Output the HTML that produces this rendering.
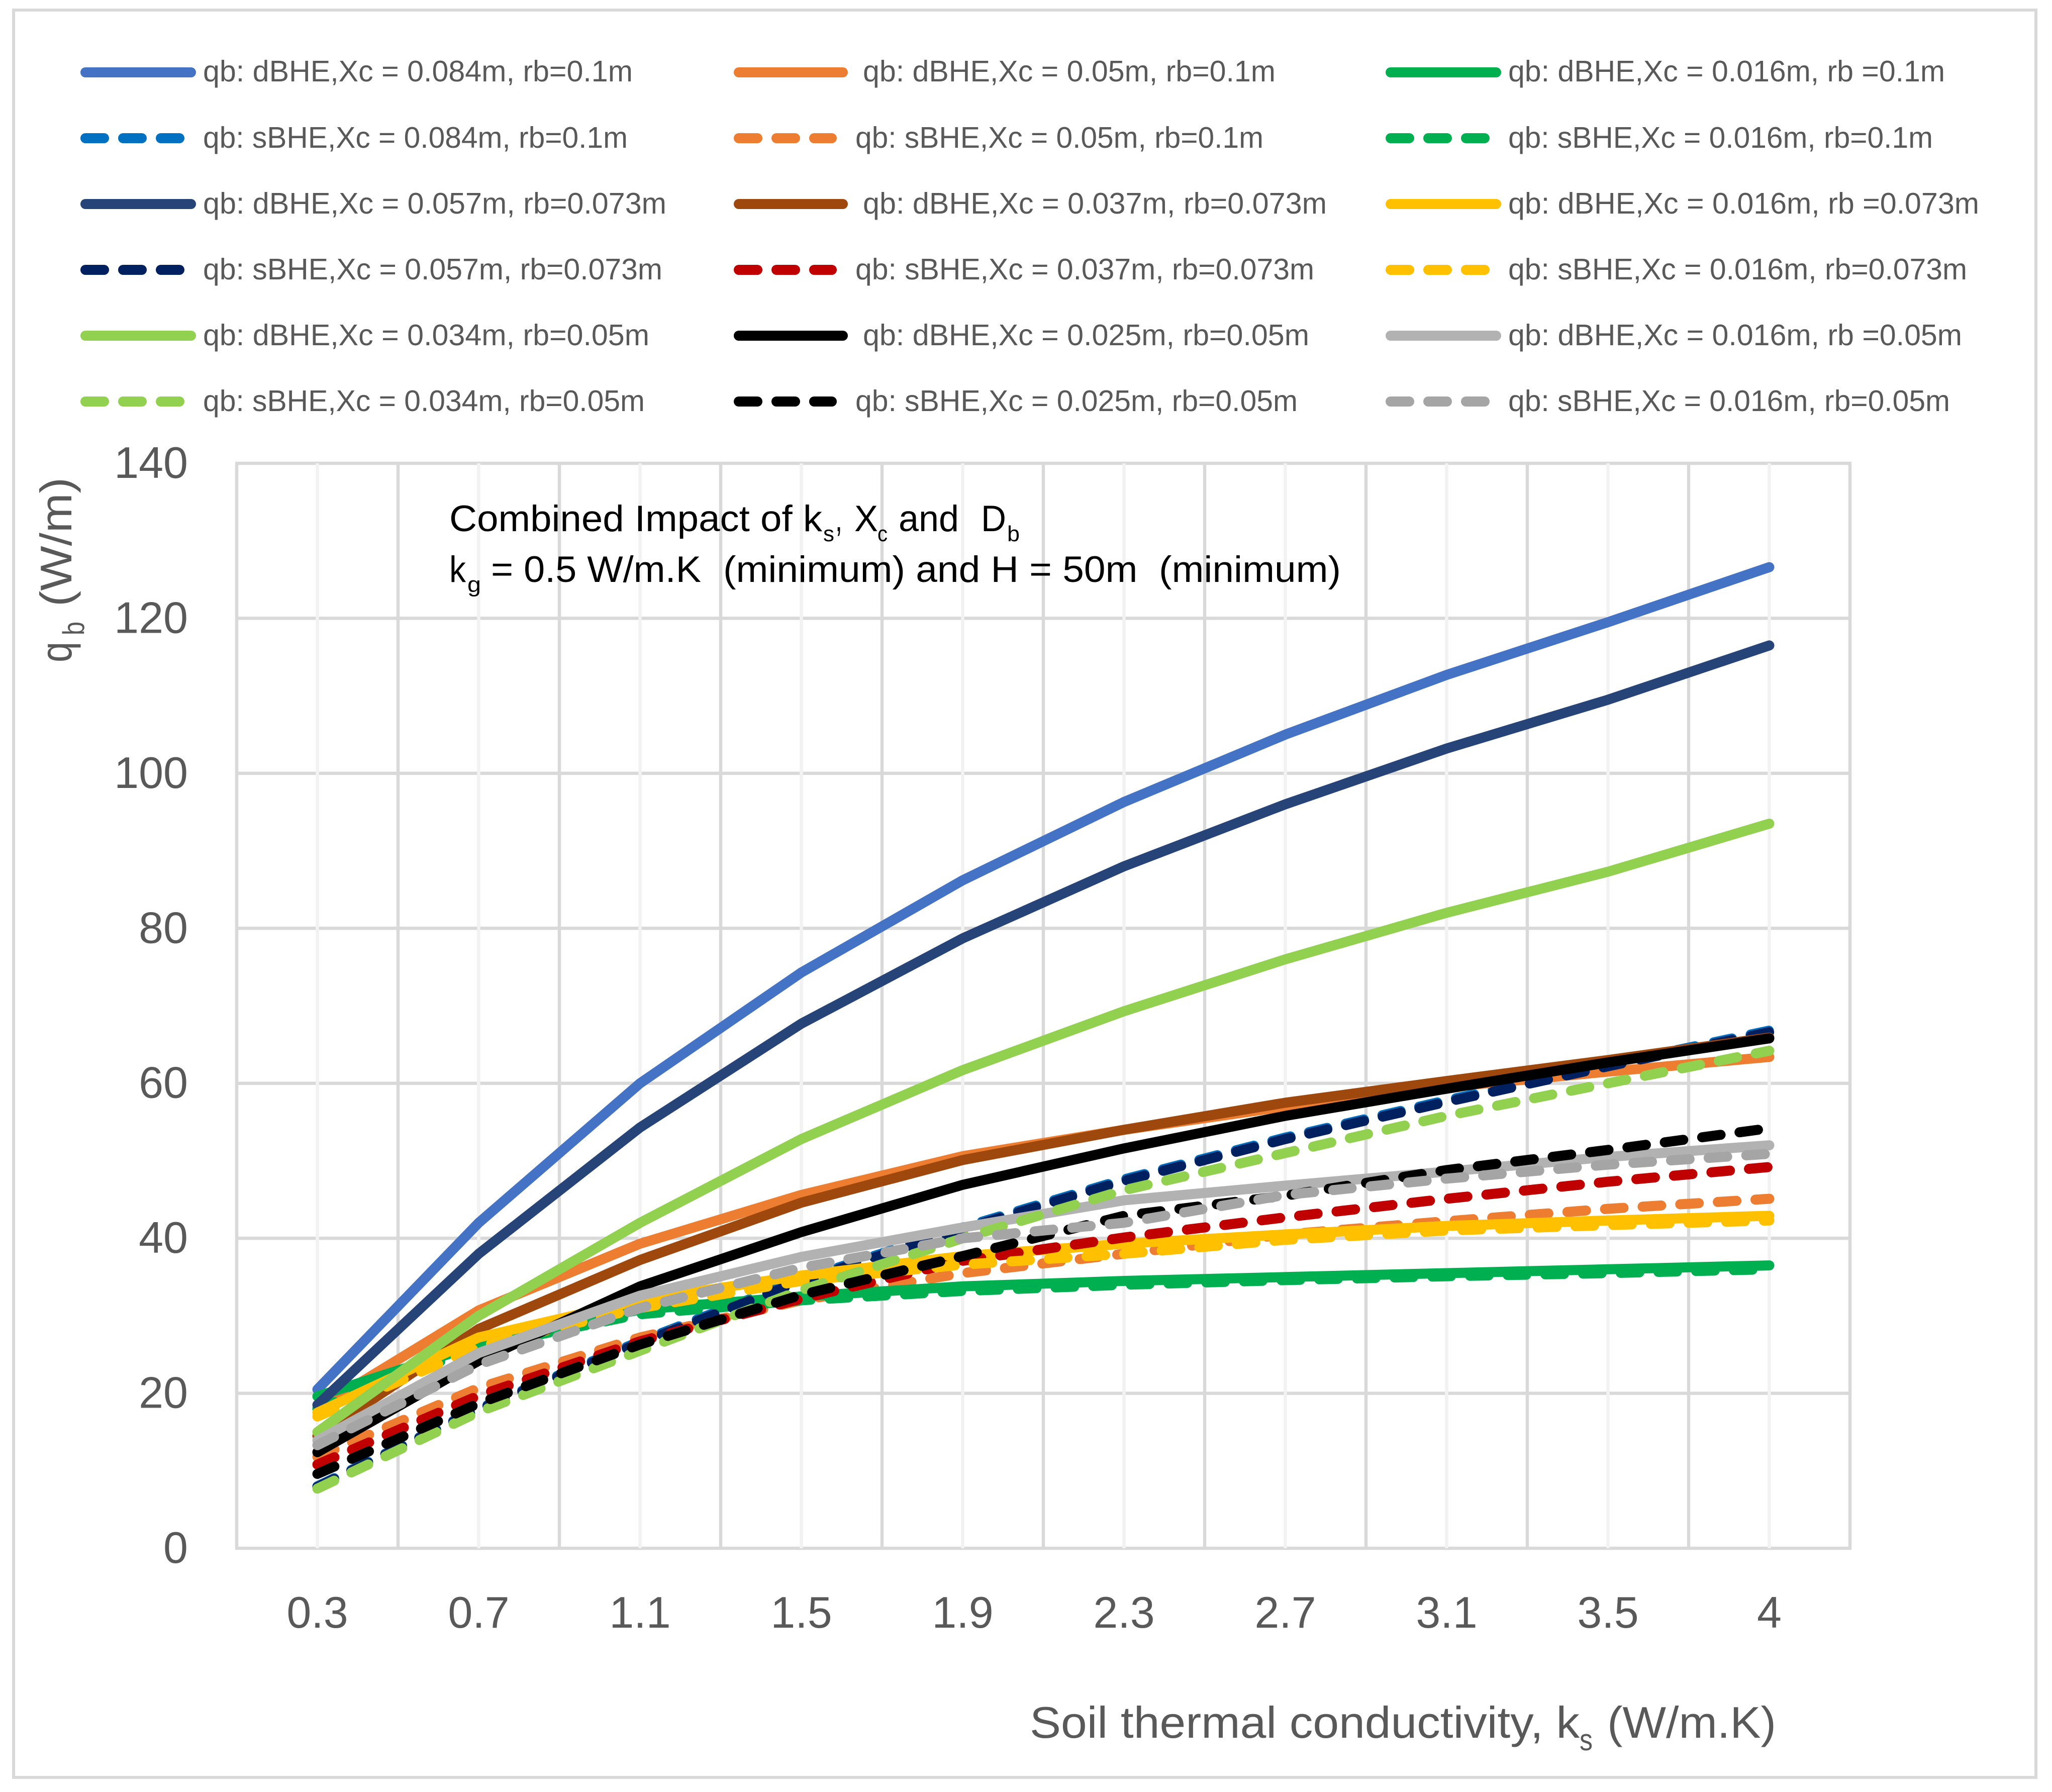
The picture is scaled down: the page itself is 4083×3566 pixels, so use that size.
<!DOCTYPE html>
<html lang="en">
<head>
<meta charset="utf-8">
<title>Combined Impact of ks, Xc and Db</title>
<style>
html,body{margin:0;padding:0;background:#fff;}
svg{display:block;font-family:"Liberation Sans",sans-serif;}
.lg{font-size:59px;fill:#595959;}
.tick{font-size:88px;fill:#595959;}
.axt{font-size:88px;fill:#595959;}
.axs{font-size:60px;fill:#595959;}
.an{font-size:73px;fill:#000;white-space:pre;}
.ans{font-size:44px;fill:#000;}
</style>
</head>
<body>
<svg id="chart" xmlns="http://www.w3.org/2000/svg" width="4083" height="3566" viewBox="0 0 4083 3566">
<rect x="0" y="0" width="4083" height="3566" fill="#fff"/>
<rect x="27" y="20" width="4024" height="3517" fill="none" stroke="#d9d9d9" stroke-width="6"/>

<g id="grid"></g>
<g id="y-ticks"></g>
<g id="x-ticks"></g>
<g id="series" fill="none" stroke-width="20" stroke-linecap="round" stroke-linejoin="round"></g>

<g stroke-width="20" stroke-linecap="round" fill="none">
  <g><line x1="170" y1="144" x2="380" y2="144" stroke="#4472c4"/><text class="lg" stroke="none" x="404" y="162" textLength="855" lengthAdjust="spacingAndGlyphs">qb: dBHE,Xc = 0.084m, rb=0.1m</text></g>
  <g><line x1="170" y1="275" x2="357" y2="275" stroke="#0070c0" stroke-dasharray="37 38"/><text class="lg" stroke="none" x="404" y="294" textLength="845" lengthAdjust="spacingAndGlyphs">qb: sBHE,Xc = 0.084m, rb=0.1m</text></g>
  <g><line x1="170" y1="406" x2="380" y2="406" stroke="#264478"/><text class="lg" stroke="none" x="404" y="425" textLength="922" lengthAdjust="spacingAndGlyphs">qb: dBHE,Xc = 0.057m, rb=0.073m</text></g>
  <g><line x1="170" y1="537" x2="357" y2="537" stroke="#002060" stroke-dasharray="37 38"/><text class="lg" stroke="none" x="404" y="556" textLength="914" lengthAdjust="spacingAndGlyphs">qb: sBHE,Xc = 0.057m, rb=0.073m</text></g>
  <g><line x1="170" y1="668" x2="380" y2="668" stroke="#92d050"/><text class="lg" stroke="none" x="404" y="687" textLength="888" lengthAdjust="spacingAndGlyphs">qb: dBHE,Xc = 0.034m, rb=0.05m</text></g>
  <g><line x1="170" y1="799" x2="357" y2="799" stroke="#92d050" stroke-dasharray="37 38"/><text class="lg" stroke="none" x="404" y="818" textLength="879" lengthAdjust="spacingAndGlyphs">qb: sBHE,Xc = 0.034m, rb=0.05m</text></g>

  <g><line x1="1470" y1="144" x2="1677" y2="144" stroke="#ed7d31"/><text class="lg" stroke="none" x="1717" y="162" textLength="821" lengthAdjust="spacingAndGlyphs">qb: dBHE,Xc = 0.05m, rb=0.1m</text></g>
  <g><line x1="1470" y1="275" x2="1655" y2="275" stroke="#ed7d31" stroke-dasharray="37 38"/><text class="lg" stroke="none" x="1702" y="294" textLength="812" lengthAdjust="spacingAndGlyphs">qb: sBHE,Xc = 0.05m, rb=0.1m</text></g>
  <g><line x1="1470" y1="406" x2="1677" y2="406" stroke="#9e480e"/><text class="lg" stroke="none" x="1717" y="425" textLength="923" lengthAdjust="spacingAndGlyphs">qb: dBHE,Xc = 0.037m, rb=0.073m</text></g>
  <g><line x1="1470" y1="537" x2="1655" y2="537" stroke="#c00000" stroke-dasharray="37 38"/><text class="lg" stroke="none" x="1702" y="556" textLength="913" lengthAdjust="spacingAndGlyphs">qb: sBHE,Xc = 0.037m, rb=0.073m</text></g>
  <g><line x1="1470" y1="668" x2="1677" y2="668" stroke="#000"/><text class="lg" stroke="none" x="1717" y="687" textLength="888" lengthAdjust="spacingAndGlyphs">qb: dBHE,Xc = 0.025m, rb=0.05m</text></g>
  <g><line x1="1470" y1="799" x2="1655" y2="799" stroke="#000" stroke-dasharray="37 38"/><text class="lg" stroke="none" x="1702" y="818" textLength="880" lengthAdjust="spacingAndGlyphs">qb: sBHE,Xc = 0.025m, rb=0.05m</text></g>

  <g><line x1="2767" y1="144" x2="2977" y2="144" stroke="#00b050"/><text class="lg" stroke="none" x="3001" y="162" textLength="869" lengthAdjust="spacingAndGlyphs">qb: dBHE,Xc = 0.016m, rb =0.1m</text></g>
  <g><line x1="2767" y1="275" x2="2955" y2="275" stroke="#00b050" stroke-dasharray="37 38"/><text class="lg" stroke="none" x="3001" y="294" textLength="845" lengthAdjust="spacingAndGlyphs">qb: sBHE,Xc = 0.016m, rb=0.1m</text></g>
  <g><line x1="2767" y1="406" x2="2977" y2="406" stroke="#ffc000"/><text class="lg" stroke="none" x="3001" y="425" textLength="937" lengthAdjust="spacingAndGlyphs">qb: dBHE,Xc = 0.016m, rb =0.073m</text></g>
  <g><line x1="2767" y1="537" x2="2955" y2="537" stroke="#ffc000" stroke-dasharray="37 38"/><text class="lg" stroke="none" x="3001" y="556" textLength="913" lengthAdjust="spacingAndGlyphs">qb: sBHE,Xc = 0.016m, rb=0.073m</text></g>
  <g><line x1="2767" y1="668" x2="2977" y2="668" stroke="#b2b2b2"/><text class="lg" stroke="none" x="3001" y="687" textLength="903" lengthAdjust="spacingAndGlyphs">qb: dBHE,Xc = 0.016m, rb =0.05m</text></g>
  <g><line x1="2767" y1="799" x2="2955" y2="799" stroke="#a5a5a5" stroke-dasharray="37 38"/><text class="lg" stroke="none" x="3001" y="818" textLength="879" lengthAdjust="spacingAndGlyphs">qb: sBHE,Xc = 0.016m, rb=0.05m</text></g>
</g>

<g>
  <text class="an" x="894" y="1057" textLength="742" lengthAdjust="spacingAndGlyphs">Combined Impact of k</text>
  <text class="ans" x="1638" y="1077" textLength="22" lengthAdjust="spacingAndGlyphs">s</text>
  <text class="an" x="1662" y="1057" textLength="14" lengthAdjust="spacingAndGlyphs">,</text>
  <text class="an" x="1700" y="1057" textLength="47" lengthAdjust="spacingAndGlyphs">X</text>
  <text class="ans" x="1746" y="1077" textLength="20" lengthAdjust="spacingAndGlyphs">c</text>
  <text class="an" x="1788" y="1057" textLength="120" lengthAdjust="spacingAndGlyphs">and</text>
  <text class="an" x="1952" y="1057" textLength="50" lengthAdjust="spacingAndGlyphs">D</text>
  <text class="ans" x="2004" y="1077" textLength="25" lengthAdjust="spacingAndGlyphs">b</text>
  <text class="an" x="894" y="1158" textLength="33" lengthAdjust="spacingAndGlyphs">k</text>
  <text class="ans" x="930" y="1178" textLength="27" lengthAdjust="spacingAndGlyphs">g</text>
  <text class="an" x="977" y="1158" textLength="418" lengthAdjust="spacingAndGlyphs">= 0.5 W/m.K</text>
  <text class="an" x="1439" y="1158" textLength="1229" lengthAdjust="spacingAndGlyphs">(minimum) and H = 50m  (minimum)</text>
</g>

<g transform="translate(142,1318) rotate(-90)">
  <text class="axt" x="0" y="0" textLength="41" lengthAdjust="spacingAndGlyphs">q</text>
  <text class="axs" x="54" y="25" textLength="27" lengthAdjust="spacingAndGlyphs">b</text>
  <text class="axt" x="111" y="0" textLength="257" lengthAdjust="spacingAndGlyphs">(W/m)</text>
</g>

<g>
  <text class="axt" x="2049" y="3458" textLength="1094" lengthAdjust="spacingAndGlyphs">Soil thermal conductivity, k</text>
  <text class="axs" x="3143" y="3483" textLength="26" lengthAdjust="spacingAndGlyphs">s</text>
  <text class="axt" x="3198" y="3458" textLength="336" lengthAdjust="spacingAndGlyphs">(W/m.K)</text>
</g>
</svg>

<script>
// ---- chart data ----
const xCategories = ['0.3','0.7','1.1','1.5','1.9','2.3','2.7','3.1','3.5','4'];
const yTickLabels = [0,20,40,60,80,100,120,140];

const dBHE_084_r010 = [20.5,42.0,60.0,74.3,86.2,96.3,105.0,112.7,119.5,126.6];
const sBHE_084_r010 = [8.0,18.0,26.7,34.7,41.4,47.6,53.0,57.8,62.4,66.8];
const dBHE_050_r010 = [18.0,30.7,39.3,45.6,50.6,54.0,57.0,59.5,61.5,63.4];
const sBHE_050_r010 = [11.8,20.7,27.2,32.0,35.5,38.0,40.5,42.2,43.8,45.1];
const dBHE_016_r010 = [19.6,26.3,30.8,32.5,33.8,34.5,35.0,35.5,36.0,36.5];
const sBHE_016_r010 = [18.0,26.0,30.2,32.0,33.2,34.0,34.6,35.1,35.5,36.0];
const dBHE_057_r073 = [18.5,38.0,54.3,67.7,78.7,88.0,96.0,103.2,109.5,116.5];
const sBHE_057_r073 = [7.9,17.9,26.5,34.5,41.2,47.4,52.8,57.6,62.2,66.6];
const dBHE_037_r073 = [14.5,28.3,37.2,44.6,50.1,54.0,57.5,60.3,63.0,65.9];
const sBHE_037_r073 = [10.8,19.7,26.7,32.2,37.1,40.1,42.7,45.1,47.3,49.2];
const dBHE_016_r073 = [17.5,27.2,32.0,35.2,37.7,39.3,40.5,41.6,42.3,42.9];
const sBHE_016_r073 = [17.0,26.0,31.0,34.5,36.6,38.0,39.8,41.0,41.7,42.3];
const dBHE_034_r050 = [15.0,30.0,42.0,52.8,61.7,69.3,76.0,82.0,87.3,93.5];
const sBHE_034_r050 = [7.7,17.6,25.5,33.3,40.0,46.2,51.0,55.8,60.0,64.2];
const dBHE_025_r050 = [12.4,24.2,33.8,40.8,46.9,51.6,55.8,59.3,62.7,65.8];
const sBHE_025_r050 = [9.6,18.7,26.3,32.7,37.7,42.9,45.5,48.8,51.4,54.2];
const dBHE_016_r050 = [13.9,25.2,32.6,37.6,41.4,44.9,46.8,48.6,50.5,52.0];
const sBHE_016_r050 = [13.3,23.7,31.0,36.2,40.0,42.0,45.6,47.7,49.5,50.9];

// ---- axis functions ----
const NS = 'http://www.w3.org/2000/svg';
const plotLeft = 471, plotRight = 3681, plotTop = 922, plotBottom = 3081, yMax = 140;
const slotWidth = (plotRight - plotLeft) / 20;
function xPos(i){ return plotLeft + slotWidth + i * 2 * slotWidth; }
function yPos(v){ return plotBottom - (v / yMax) * (plotBottom - plotTop); }

function make(tag, parent, attrs){
  const el = document.createElementNS(NS, tag);
  for (const k in attrs) el.setAttribute(k, attrs[k]);
  parent.appendChild(el);
  return el;
}

// ---- grid ----
const gridG = document.getElementById('grid');
yTickLabels.forEach(function(v){
  const gl = make('line', gridG, {x1:plotLeft-3, x2:plotRight+3, y1:yPos(v), y2:yPos(v), stroke:'#d9d9d9', 'stroke-width':6.5});
  
  
});
for (let k = 0; k <= 20; k += 2){
  const gl = make('line', gridG, {x1:plotLeft + k*slotWidth, x2:plotLeft + k*slotWidth, y1:plotTop, y2:plotBottom, stroke:'#d9d9d9', 'stroke-width':6.5});
  
  
}
for (let k = 1; k < 20; k += 2){
  const gl = make('line', gridG, {x1:plotLeft + k*slotWidth, x2:plotLeft + k*slotWidth, y1:plotTop, y2:plotBottom, stroke:'#f2f2f2', 'stroke-width':6.5});
  
  
}

// ---- tick labels ----
const yG = document.getElementById('y-ticks');
yTickLabels.forEach(function(v){
  const t = make('text', yG, {class:'tick', x:374, y:yPos(v)+29, 'text-anchor':'end'});
  
  
  t.textContent = v;
});
const xG = document.getElementById('x-ticks');
xCategories.forEach(function(c, i){
  const t = make('text', xG, {class:'tick', x:xPos(i), y:3239, 'text-anchor':'middle'});
  
  
  t.textContent = c;
});

// ---- series, in drawing order ----
const seriesG = document.getElementById('series');
function drawLine(values, color, dashed, name){
  const d = values.map(function(v, i){ return (i ? 'L' : 'M') + xPos(i).toFixed(1) + ' ' + yPos(v).toFixed(1); }).join(' ');
  const p = make('path', seriesG, {d:d, stroke:color});
  if (dashed) p.setAttribute('stroke-dasharray', '37 38');
  
  
}
drawLine(dBHE_084_r010, '#4472c4', false, 'line-dbhe-xc084-rb01');
drawLine(sBHE_084_r010, '#0070c0', true,  'line-sbhe-xc084-rb01');
drawLine(dBHE_050_r010, '#ed7d31', false, 'line-dbhe-xc05-rb01');
drawLine(sBHE_050_r010, '#ed7d31', true,  'line-sbhe-xc05-rb01');
drawLine(dBHE_016_r010, '#00b050', false, 'line-dbhe-xc016-rb01');
drawLine(sBHE_016_r010, '#00b050', true,  'line-sbhe-xc016-rb01');
drawLine(dBHE_057_r073, '#264478', false, 'line-dbhe-xc057-rb073');
drawLine(sBHE_057_r073, '#002060', true,  'line-sbhe-xc057-rb073');
drawLine(dBHE_037_r073, '#9e480e', false, 'line-dbhe-xc037-rb073');
drawLine(dBHE_016_r073, '#ffc000', false, 'line-dbhe-xc016-rb073');
drawLine(sBHE_037_r073, '#c00000', true,  'line-sbhe-xc037-rb073');
drawLine(sBHE_016_r073, '#ffc000', true,  'line-sbhe-xc016-rb073');
drawLine(dBHE_034_r050, '#92d050', false, 'line-dbhe-xc034-rb05');
drawLine(dBHE_025_r050, '#000000', false, 'line-dbhe-xc025-rb05');
drawLine(dBHE_016_r050, '#b2b2b2', false, 'line-dbhe-xc016-rb05');
drawLine(sBHE_034_r050, '#92d050', true,  'line-sbhe-xc034-rb05');
drawLine(sBHE_025_r050, '#000000', true,  'line-sbhe-xc025-rb05');
drawLine(sBHE_016_r050, '#a5a5a5', true,  'line-sbhe-xc016-rb05');
</script>
</body>
</html>
